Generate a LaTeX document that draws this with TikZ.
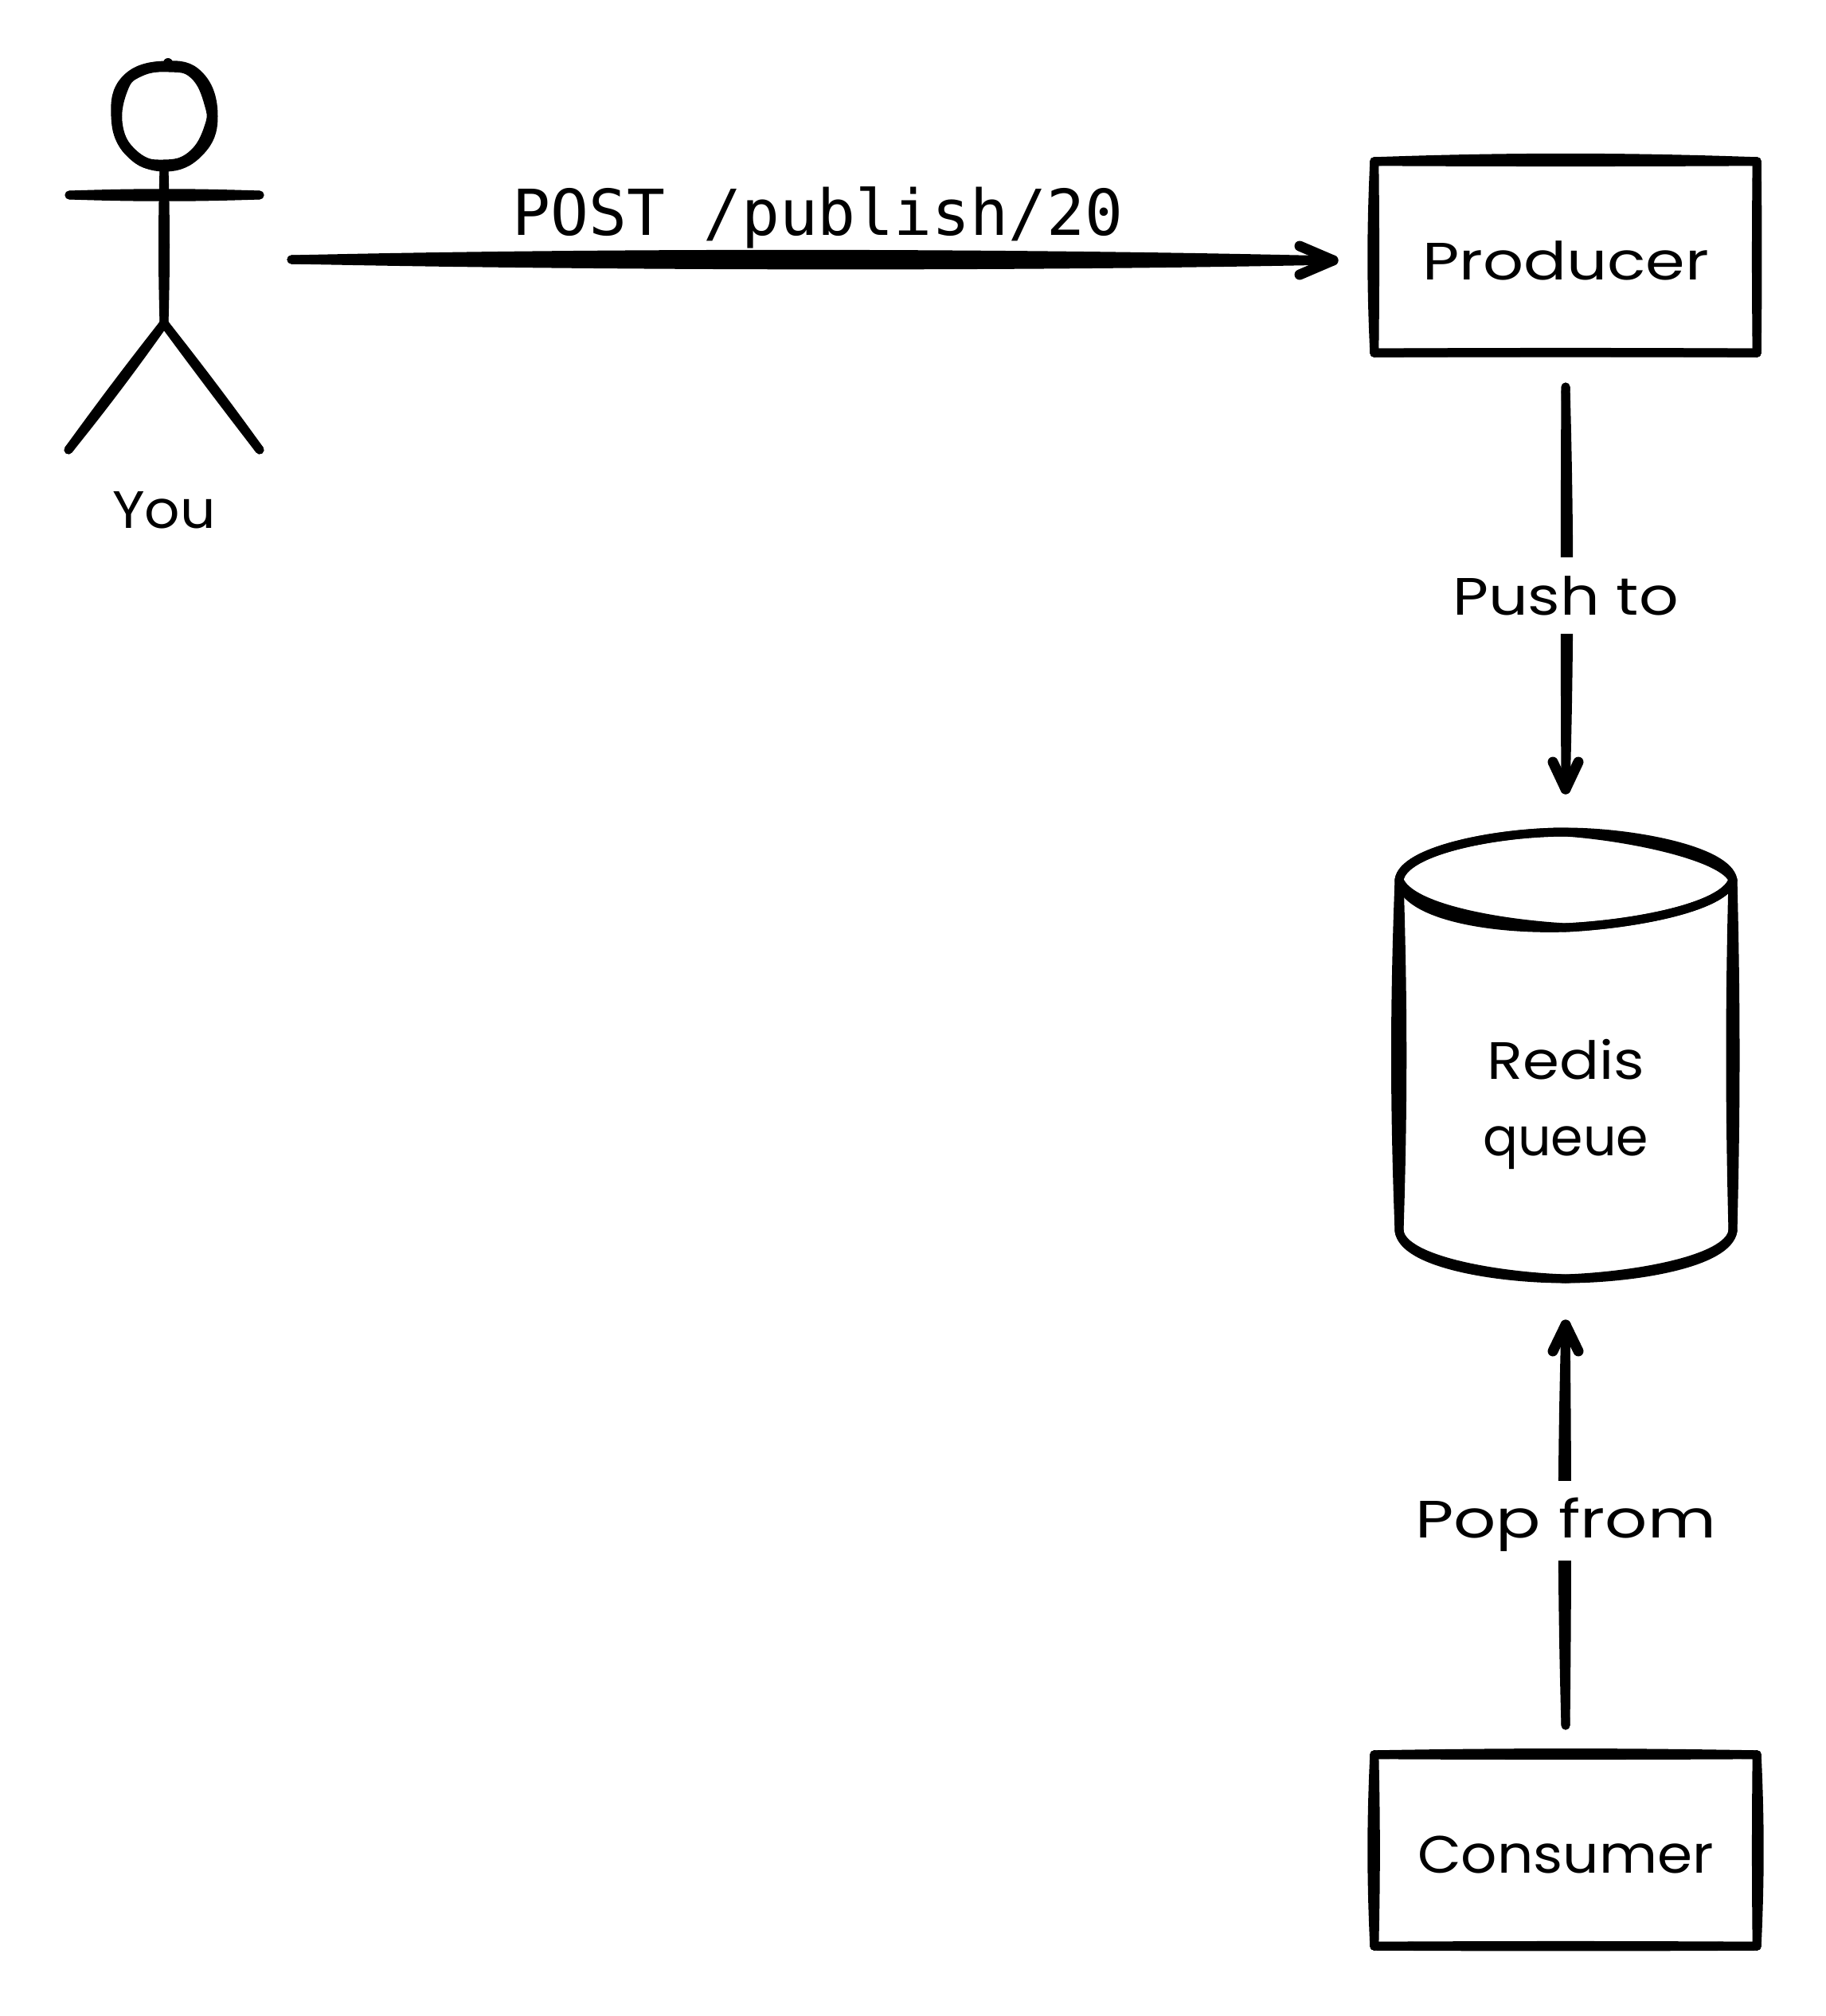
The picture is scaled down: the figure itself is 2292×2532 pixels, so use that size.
\documentclass[tikz,border=0pt]{standalone}
\usepackage{fontspec}
\usepackage{graphicx}
\usetikzlibrary{calc}
\newfontfamily\handfont[FakeStretch=1.12]{Poppins}
\newfontfamily\codefont{DejaVu Sans Mono}
% one hand-drawn segment: two slightly bowed strokes between two named points
\newcommand{\skstroke}[4]{%
  \draw[skline] (#1) .. controls ($(#1)!.35!(#2)+(#3)$) and ($(#1)!.65!(#2)+(#3)$) .. (#2);
  \draw[skline] (#1) .. controls ($(#1)!.35!(#2)+(#4)$) and ($(#1)!.65!(#2)+(#4)$) .. (#2);}
% arrow head: two heavy barbs meeting at the tip
\newcommand{\skbarbs}[3]{%
  \draw[barbline] (#1) -- (#3);
  \draw[barbline] (#2) -- (#3);}
\newcommand{\hwide}[2]{\scalebox{#1}[1]{#2}}
\tikzset{
  skline/.style={draw=black,line width=11pt,line cap=round,line join=round},
  barbline/.style={skline,line width=13pt},
  headline/.style={skline,line width=13pt},
  handtext/.style={font=\handfont\fontsize{66}{66}\selectfont,text=black,inner sep=0pt,anchor=base},
  handlabel/.style={handtext,fill=white,anchor=center,inner xsep=8pt},
  sketchbox/.style={font=\handfont\fontsize{66}{66}\selectfont,minimum width=480pt,minimum height=240pt,inner sep=0pt,text height=56pt,text depth=0pt},
  codetext/.style={font=\codefont\fontsize{79.6}{79.6}\selectfont,text=black,inner sep=0pt,anchor=base}
}
\begin{document}
\begin{tikzpicture}[x=1pt,y=-1pt]
\useasboundingbox[fill=white] (0,0) rectangle (2292,2532);

% ---------- stick figure
\draw[headline] plot[smooth cycle,tension=.75] coordinates {(207,83)(250,96)(267,146)(250,190)(207,209)(163,190)(146,146)(159,100)};
\draw[headline] plot[smooth cycle,tension=.75] coordinates {(212,84)(244,93)(263,130)(263,160)(241,196)(205,207)(170,197)(148,160)(154,112)(175,90)};
\draw[skline,line width=12pt] (210,83) -- (211,79);
\coordinate (neck) at (206,212);
\coordinate (hip) at (206,406);
\coordinate (armL) at (87,245);
\coordinate (armR) at (326,245);
\coordinate (footL) at (86,565);
\coordinate (footR) at (326,565);
\skstroke{neck}{hip}{-2,0}{2,0}
\skstroke{armL}{armR}{0,-3}{0,3}
\skstroke{hip}{footL}{-1,-1}{2,1}
\skstroke{hip}{footR}{-1,0}{2,0}
\node[handtext] (you) at (206,663) {\hwide{.94}{You}};

% ---------- boxes
\node[sketchbox] (producer) at (1966,323) {\hwide{1.08}{Producer}};
\node[sketchbox] (consumer) at (1966,2324) {\hwide{.96}{Consumer}};
% Producer outline
\coordinate (pnw) at (producer.north west);
\coordinate (pne) at (producer.north east);
\coordinate (pse) at (producer.south east);
\coordinate (psw) at (producer.south west);
\skstroke{pnw}{pne}{0,-6}{0,1}
\skstroke{pne}{pse}{-1,0}{1,0}
\skstroke{pse}{psw}{0,-1}{0,0}
\skstroke{psw}{pnw}{-4,0}{1,0}
% Consumer outline
\coordinate (cnw) at (consumer.north west);
\coordinate (cne) at (consumer.north east);
\coordinate (cse) at (consumer.south east);
\coordinate (csw) at (consumer.south west);
\skstroke{cnw}{cne}{0,-3}{0,1}
\skstroke{cne}{cse}{-1,0}{4,0}
\skstroke{cse}{csw}{0,-1}{0,1}
\skstroke{csw}{cnw}{-4,0}{2,0}

% ---------- cylinder
\coordinate (rtl) at (1757,1105);
\coordinate (rtr) at (2176,1105);
\coordinate (rbl) at (1757,1546);
\coordinate (rbr) at (2176,1546);
\coordinate (rtt) at (1966,1045);
\coordinate (rtb) at (1966,1165);
\coordinate (rbb) at (1966,1606);
\skstroke{rtl}{rbl}{-6,0}{5,0}
\skstroke{rtr}{rbr}{-4,0}{4,0}
% upper rim
\draw[skline] (rtl) .. controls (1762,1068) and (1880,1045) .. (rtt) .. controls (2050,1045) and (2170,1068) .. (rtr);
\draw[skline] (rtl) .. controls (1762,1068) and (1880,1045) .. (rtt) .. controls (2050,1051) and (2164,1076) .. (rtr);
% lower rim of the lid
\draw[skline] (rtl) .. controls (1770,1140) and (1880,1160) .. (rtb) .. controls (2050,1161) and (2165,1140) .. (rtr);
\draw[skline] (rtl) .. controls (1766,1152) and (1880,1168) .. (rtb) .. controls (2050,1161) and (2165,1140) .. (rtr);
% base
\draw[skline] (rbl) .. controls (1762,1587) and (1880,1606) .. (rbb) .. controls (2050,1606) and (2170,1587) .. (rbr);
\draw[skline] (rbl) .. controls (1762,1583) and (1880,1603) .. (rbb) .. controls (2050,1603) and (2170,1583) .. (rbr);
\node[handtext] (redisA) at (1966,1355) {Redis};
\node[handtext] (redisB) at (1966,1451) {\hwide{.88}{queue}};

% ---------- POST arrow
\coordinate (youport) at (366,326);
\coordinate (prodport) at (1674,327);
\coordinate (pbarbA) at (1632,309);
\coordinate (pbarbB) at (1632,345);
\draw[skline] (youport) .. controls (800,316) and (1300,318) .. (prodport);
\draw[skline] (youport) .. controls (800,326) and (1300,326) .. (prodport);
\draw[skline] (youport) .. controls (800,335) and (1300,335) .. (prodport);
\skbarbs{pbarbA}{pbarbB}{prodport}
\node[codetext] (post) at (1027,295) {POST /publish/20};

% ---------- Push arrow
\coordinate (pushA) at (1966,486);
\coordinate (pushB) at (1966,991);
\coordinate (pushC) at (1950,957);
\coordinate (pushD) at (1982,957);
\skstroke{pushA}{pushB}{-1,0}{5,0}
\skbarbs{pushC}{pushD}{pushB}
\node[handlabel,text height=72pt,text depth=24pt] (pushlabel) at (1966,748) {\hwide{1.05}{Push to}};

% ---------- Pop arrow
\coordinate (popA) at (1966,2167);
\coordinate (popB) at (1966,1664);
\coordinate (popC) at (1950,1697);
\coordinate (popD) at (1982,1697);
\skstroke{popA}{popB}{-5,0}{2,0}
\skbarbs{popC}{popD}{popB}
\node[handlabel,text height=71pt,text depth=29pt] (poplabel) at (1966,1910) {\hwide{1.127}{Pop from}};
\end{tikzpicture}
\end{document}
